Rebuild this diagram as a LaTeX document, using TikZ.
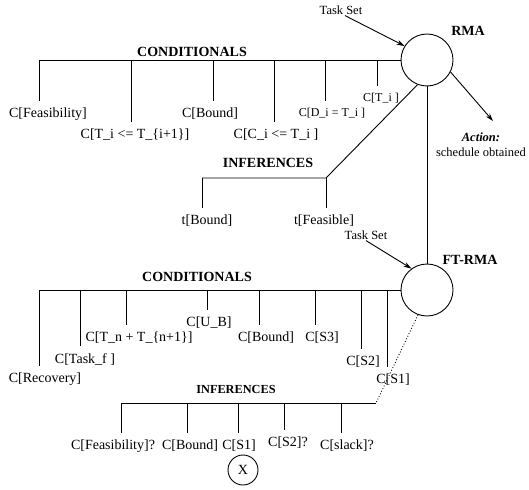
\documentclass[tikz,border=0pt]{standalone}
\usepackage{fontspec}
\setmainfont{Liberation Serif}
\usetikzlibrary{arrows.meta}

\begin{document}
\begin{tikzpicture}[x=1pt,y=-1pt,
  wire/.style={line width=0.9pt},
  lbl/.style={font=\fontsize{14}{16}\selectfont, anchor=north, inner xsep=1pt, inner ysep=7pt},
  slbl/.style={lbl, font=\fontsize{12}{14}\selectfont},
  head/.style={font=\fontsize{14}{16}\selectfont\bfseries, inner sep=1pt},
  shead/.style={font=\fontsize{12.3}{14}\selectfont\bfseries, inner sep=1pt},
  note/.style={font=\fontsize{12.5}{14}\selectfont, inner sep=1pt},
  proc/.style={circle, draw, line width=0.9pt, minimum size=52pt, inner sep=0pt},
  arr/.style={wire, -{Stealth[length=8pt,width=5pt]}},
]
\useasboundingbox (0,0) rectangle (529,489);

% ---------------- RMA ----------------
\node[proc] (rma) at (427,60) {};
\node[head] (rmaname) at (468,31) {RMA};
\node[note] (ts1) at (341,10) {Task Set};
\draw[arr] ([xshift=4pt]ts1.south) -- (rma.148);

% action
\coordinate (acttip) at (493,121);
\draw[arr] (rma.-27) -- (acttip);
\node[note, font=\fontsize{12.5}{14}\selectfont\bfseries\itshape] (actt) at (481,137) {Action:};
\node[note] (acts) at (481,152) {schedule obtained};

% conditionals of RMA
\node[head] (cond1) at (192,52) {CONDITIONALS};
\coordinate (t1) at (39,60);
\coordinate (t2) at (131,60);
\coordinate (t3) at (213,60);
\coordinate (t4) at (274,60);
\coordinate (t5) at (325,60);
\coordinate (t6) at (377,60);
\draw[wire] (t1) -- (rma.west);

\node[lbl]  (cfeas) at (48,101)  {C[Feasibility]};
\node[lbl]  (cti)   at (135,122) {C[T\_i <= T\_\{i+1\}]};
\node[lbl]  (cbnd)  at (210,101) {C[Bound]};
\node[lbl]  (cci)   at (276,122) {C[C\_i <= T\_i ]};
\node[slbl] (cdi)   at (332,101) {C[D\_i = T\_i ]};
\node[slbl] (ctt)   at (381,86)  {C[T\_i ]};
\draw[wire] (t1) -- (t1 |- cfeas.north);
\draw[wire] (t2) -- (t2 |- cti.north);
\draw[wire] (t3) -- (t3 |- cbnd.north);
\draw[wire] (t4) -- (t4 |- cci.north);
\draw[wire] (t5) -- (t5 |- cdi.north);
\draw[wire] (t6) -- (t6 |- ctt.north);

% inferences of RMA
\node[head] (inf1) at (268,163) {INFERENCES};
\coordinate (i0) at (326,178);
\coordinate (i1) at (202,178);
\draw[wire] (rma.249) -- (i0) -- (i1);
\node[lbl] (tbnd) at (207,208) {t[Bound]};
\node[lbl] (tfea) at (324,208) {t[Feasible]};
\draw[wire] (i1) -- (i1 |- tbnd.north);
\draw[wire] (i0) -- (i0 |- tfea.north);

% ---------------- FT-RMA ----------------
\node[proc] (ftrma) at (427,290) {};
\node[head] (ftname) at (470,260) {FT-RMA};
\draw[wire] (rma.south) -- (ftrma.north);
\node[note] (ts2) at (366,235) {Task Set};
\draw[arr] (ts2.south) -- (ftrma.126);

% conditionals of FT-RMA
\node[head] (cond2) at (197,277) {CONDITIONALS};
\coordinate (f1) at (39,290);
\coordinate (f2) at (80,290);
\coordinate (f3) at (126,290);
\coordinate (f4) at (207,290);
\coordinate (f5) at (259,290);
\coordinate (f6) at (315,290);
\coordinate (f7) at (361,290);
\coordinate (f8) at (387,290);
\draw[wire] (f1) -- (ftrma.west);

\node[lbl] (crec) at (45,366)  {C[Recovery]};
\node[lbl] (ctsk) at (85,346)  {C[Task\_f ]};
\node[lbl] (ctn)  at (139,325) {C[T\_n + T\_\{n+1\}]};
\node[lbl] (cub)  at (209,310) {C[U\_B]};
\node[lbl] (cbd2) at (266,325) {C[Bound]};
\node[lbl] (cs3)  at (322,325) {C[S3]};
\node[lbl] (cs2)  at (363,349) {C[S2]};
\node[lbl] (cs1)  at (393,367) {C[S1]};
\draw[wire] (f1) -- (f1 |- crec.north);
\draw[wire] (f2) -- (f2 |- ctsk.north);
\draw[wire] (f3) -- (f3 |- ctn.north);
\draw[wire] (f4) -- (f4 |- cub.north);
\draw[wire] (f5) -- (f5 |- cbd2.north);
\draw[wire] (f6) -- (f6 |- cs3.north);
\draw[wire] (f7) -- (f7 |- cs2.north);
\draw[wire] (f8) -- (f8 |- cs1.north);

% inferences of FT-RMA
\node[shead] (inf2) at (236,389) {INFERENCES};
\coordinate (j0) at (376,403);
\coordinate (j1) at (121,403);
\coordinate (j2) at (187,403);
\coordinate (j3) at (238,403);
\coordinate (j4) at (284,403);
\coordinate (j5) at (341,403);
\draw[wire, dotted] (ftrma.250) -- (j0);
\draw[wire] (j0) -- (j1);

\node[lbl] (qfea) at (113,433) {C[Feasibility]?};
\node[lbl] (qbnd) at (190,433) {C[Bound]};
\node[lbl] (qs1)  at (239,433) {C[S1]};
\node[lbl] (qs2)  at (288,430) {C[S2]?};
\node[lbl] (qslk) at (347,433) {C[slack]?};
\draw[wire] (j1) -- (j1 |- qfea.north);
\draw[wire] (j2) -- (j2 |- qbnd.north);
\draw[wire] (j3) -- (j3 |- qs1.north);
\draw[wire] (j4) -- (j4 |- qs2.north);
\draw[wire] (j5) -- (j5 |- qslk.north);

\node[circle, draw, line width=0.9pt, minimum size=30pt, inner sep=0pt,
      font=\fontsize{14}{16}\selectfont] (xmark) at (243,470) {X};
\end{tikzpicture}
\end{document}
